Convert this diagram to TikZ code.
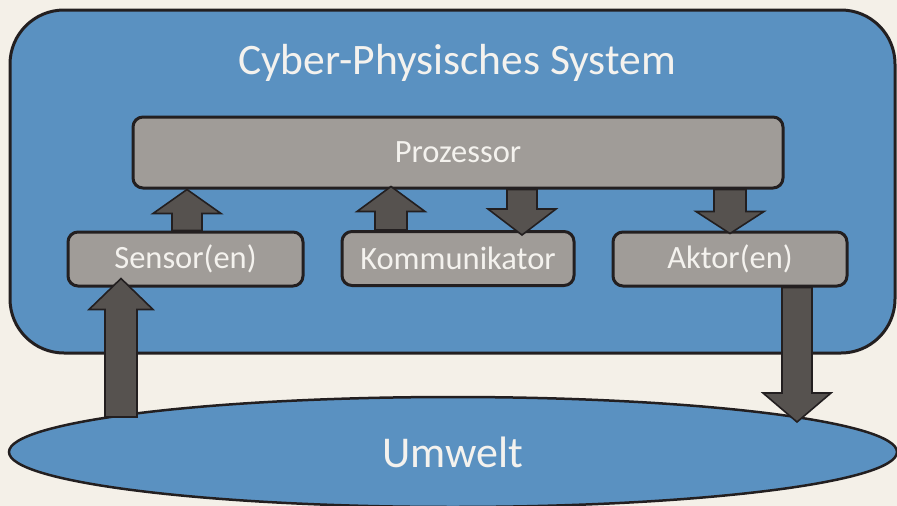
\documentclass[tikz,border=0pt]{standalone}
\usepackage{fontspec}
\setmainfont{Carlito}
\usetikzlibrary{calc,shapes.geometric}
\definecolor{bgcream}{HTML}{F4F0E8}
\definecolor{cpsblue}{HTML}{5A91C1}
\definecolor{boxgray}{HTML}{A09C98}
\definecolor{arrowgray}{HTML}{56524F}
\definecolor{outline}{HTML}{231F20}
\definecolor{lighttext}{HTML}{F4F2EE}
\tikzset{
  compbox/.style={draw=outline, line width=3pt, fill=boxgray, rounded corners=10pt,
    minimum height=54pt, inner sep=0pt, text=lighttext, font=\fontsize{32.5}{36}\selectfont},
  blockarrow/.style={draw=outline, line width=1.6pt, fill=arrowgray, line join=miter},
}
% #1 start, #2 tip, #3 shaft half width, #4 head half width, #5 signed head length (canvas)
\newcommand{\blockarr}[5]{%
  \path[blockarrow] let \p1=(#1), \p2=(#2) in
    (\x1-#3,\y1) -- (\x1-#3,\y2+#5) -- (\x1-#4,\y2+#5) -- (\x1,\y2)
    -- (\x1+#4,\y2+#5) -- (\x1+#3,\y2+#5) -- (\x1+#3,\y1) -- cycle;}
\begin{document}
\begin{tikzpicture}[x=1pt,y=-1pt]
\fill[bgcream] (0,0) rectangle (897,506);
\useasboundingbox (0,0) rectangle (897,506);
% outer system
\draw[outline, line width=3pt, fill=cpsblue, rounded corners=54pt] (10,10) rectangle (895,353);
\node[text=lighttext, font=\fontsize{43.5}{48}\selectfont] (title) at (457,63) {Cyber-Physisches System};
% environment
\node[ellipse, draw=outline, line width=2.5pt, fill=cpsblue, minimum width=888pt, minimum height=110pt,
  inner sep=0pt, text=lighttext, font=\fontsize{44}{48}\selectfont] (umwelt) at (453,452) {Umwelt};
% components
\node[compbox, minimum width=650pt, minimum height=71pt] (proz) at (458,152.5) {Prozessor};
\node[compbox, minimum width=235pt] (sensor) at (185.5,259) {Sensor(en)};
\node[compbox, minimum width=232pt] (komm) at (458,258.5) {Kommunikator};
\node[compbox, minimum width=234pt] (aktor) at (730,259) {Aktor(en)};
% arrow end points
\coordinate (sbase) at (121,417);
\coordinate (stip) at ([yshift=9pt]sbase |- sensor.south);
\coordinate (spbase) at (187,232);
\coordinate (kpbase) at (391,232);
\coordinate (pkbase) at (522,188);
\coordinate (aubase) at (797,286);
\coordinate (autip) at (797,422);
% arrows
\blockarr{sbase}{stip}{16pt}{32pt}{-31pt}
\blockarr{spbase |- sensor.north}{spbase |- proz.south}{15pt}{34pt}{-24pt}
\blockarr{kpbase |- komm.north}{[yshift=3pt]kpbase |- proz.south}{16pt}{34pt}{-25pt}
\blockarr{pkbase |- proz.south}{[yshift=-5pt]pkbase |- komm.north}{15pt}{34pt}{26pt}
\blockarr{aktor.north |- proz.south}{[yshift=-3pt]aktor.north}{16pt}{34pt}{22pt}
\blockarr{aubase |- aktor.south}{autip}{15pt}{34pt}{29pt}
\end{tikzpicture}
\end{document}
